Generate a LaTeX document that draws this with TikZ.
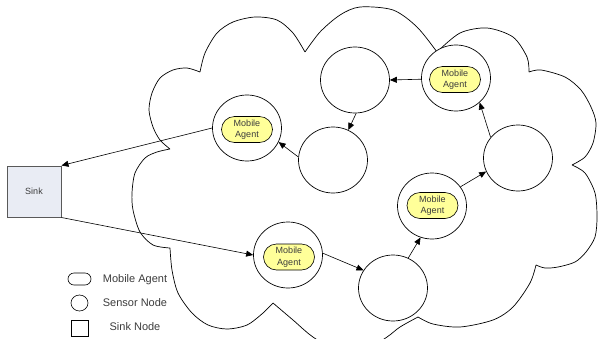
\documentclass[tikz,border=0pt]{standalone}
\usepackage{fontspec}
\setmainfont{Liberation Sans}
\usetikzlibrary{shapes.geometric,shapes.misc,arrows.meta}
\definecolor{agentfill}{RGB}{255,255,153}
\definecolor{sinkfill}{RGB}{233,236,244}
\definecolor{labelgray}{RGB}{60,60,60}
\begin{document}
\begin{tikzpicture}[x=1pt,y=-1pt,
  cloudline/.style={line width=0.7pt},
  sensor/.style={ellipse,draw,line width=0.7pt,fill=white,minimum width=69pt,minimum height=66pt,inner sep=0pt},
  agent/.style={rounded rectangle,draw,line width=0.6pt,fill=agentfill,minimum width=51pt,minimum height=26pt,inner sep=0pt,align=center,font=\fontsize{9}{11.5}\selectfont,text=labelgray},
  sinkbox/.style={rectangle,draw=black!65,line width=1pt,fill=sinkfill,minimum width=54pt,minimum height=51pt,inner sep=0pt,font=\fontsize{9}{11}\selectfont,text=labelgray},
  link/.style={line width=0.6pt,-{Triangle[length=7pt,width=6pt]}},
  legendtext/.style={anchor=base,inner sep=0pt,font=\fontsize{11}{13}\selectfont,text=labelgray},
]
\useasboundingbox (0,0) rectangle (598,338);
\clip (0,0) rectangle (598,338);

% network cloud, one lobe at a time
\draw[cloudline]
  plot[smooth] coordinates {(200,72) (205,53) (217,33) (233,22) (255,17) (277,20) (293,33) (305,52)}
  plot[smooth] coordinates {(305,52) (320,32) (340,15) (360,7) (393,10) (417,27) (437,52)}
  plot[smooth] coordinates {(437,52) (460,33) (487,28) (513,37) (527,57) (529,72)}
  plot[smooth] coordinates {(529,72) (541,70) (565,77) (581,90) (591,107) (596,123) (593,143) (585,157) (572,165)}
  plot[smooth] coordinates {(572,165) (585,173) (595,193) (597,217) (595,237) (586,252) (575,262) (558,267) (545,268) (536,265)}
  plot[smooth] coordinates {(536,265) (530,283) (513,307) (493,320) (460,327) (433,324) (418,317)}
  plot[smooth] coordinates {(418,317) (400,327) (387,337) (365,350) (340,352) (313,337) (293,320) (273,303)}
  plot[smooth] coordinates {(273,303) (263,313) (247,325) (227,329) (208,325) (192,313) (178,293) (172,270) (170,248)}
  plot[smooth] coordinates {(170,248) (153,245) (140,232) (133,210) (132,193) (135,173) (145,158) (157,152) (170,149)}
  plot[smooth] coordinates {(170,149) (160,140) (153,127) (149,110) (152,93) (160,78) (173,70) (187,68) (200,72)};

% sink
\node[sinkbox] (sink) at (34,191.5) {Sink};

% sensor nodes
\node[sensor] (A1) at (247,128) {};
\node[sensor] (A2) at (456,78) {};
\node[sensor] (A3) at (432,206) {};
\node[sensor] (A4) at (288,255) {};
\node[sensor] (S1) at (355,80) {};
\node[sensor] (S2) at (333,160) {};
\node[sensor] (S3) at (518,158) {};
\node[sensor] (S4) at (393,288) {};

% mobile agents carried by sensor nodes
\node[agent] (M1) at (247,129.5) {Mobile\\Agent};
\node[agent] (M2) at (455,79.5) {Mobile\\Agent};
\node[agent] (M3) at (432.5,205.5) {Mobile\\Agent};
\node[agent] (M4) at (289,257) {Mobile\\Agent};

% agent route
\draw[link] (sink.south east) -- (A4.180);
\draw[link] (A4.3) -- (S4.149);
\draw[link] (S4.63) -- (A3.250);
\draw[link] (A3.34) -- (S3.203);
\draw[link] (S3.143) -- (A2.314);
\draw[link] (A2.182) -- (S1.0);
\draw[link] (S1.272) -- (S2.63);
\draw[link] (S2.175) -- (A1.336);
\draw[link] (A1.180) -- (sink.north east);

% legend
\node[rounded rectangle,draw,line width=0.6pt,minimum width=23pt,minimum height=12pt,inner sep=0pt] (lgagent) at (79.5,279) {};
\node[ellipse,draw,line width=0.6pt,minimum width=17pt,minimum height=16pt,inner sep=0pt] (lgsensor) at (79.5,303) {};
\node[rectangle,draw,line width=0.6pt,minimum width=17pt,minimum height=16pt,inner sep=0pt] (lgsink) at (79.5,328) {};
\node[legendtext] (lgagenttext) at (135,282.3) {Mobile Agent};
\node[legendtext] (lgsensortext) at (135,306.7) {Sensor Node};
\node[legendtext] (lgsinktext) at (135,330) {Sink Node};
\end{tikzpicture}
\end{document}
